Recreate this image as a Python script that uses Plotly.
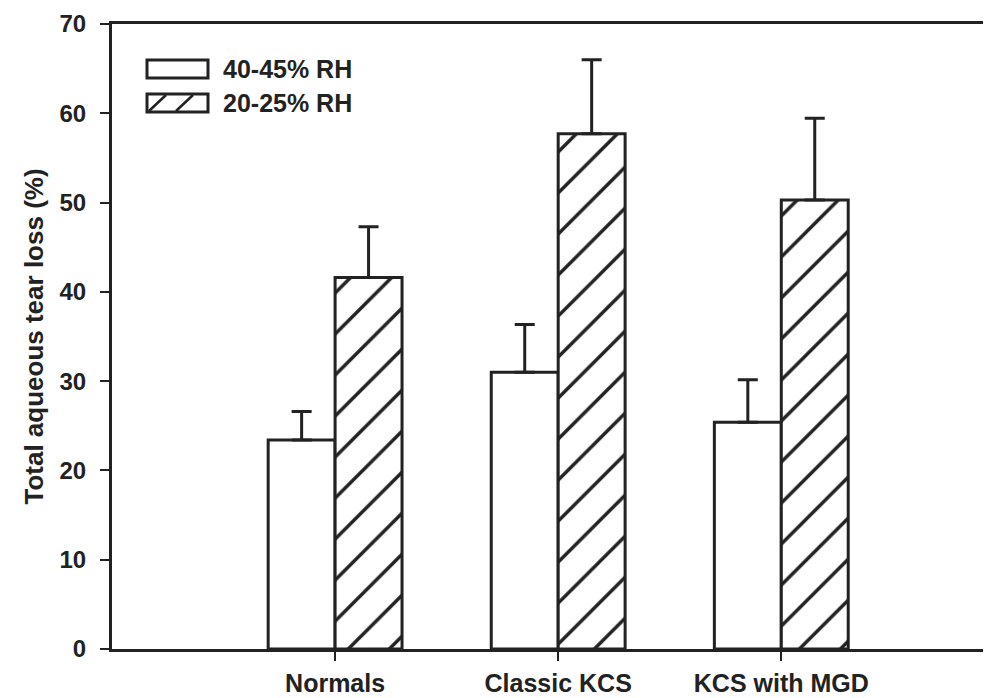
import plotly.graph_objects as go

categories = ["Normals", "Classic KCS", "KCS with MGD"]
series_names = ["40-45% RH", "20-25% RH"]
rh_high = [23.4, 31.0, 25.4]
rh_high_err = [3.2, 5.35, 4.75]
rh_low = [41.6, 57.7, 50.3]
rh_low_err = [5.7, 8.3, 9.15]
y_ticks = [0, 10, 20, 30, 40, 50, 60, 70]

INK = "#222222"
FONT = "Liberation Sans, Arial, sans-serif"
OFF = 8  # page body margin
W, H = 991 - OFF, 698 - OFF
ML, MR, MT, MB = 112 - OFF, 0, 24 - OFF, 698 - 649
PW, PH = W - ML - MR, H - MT - MB


def px(x):  # page pixel -> paper
    return (x - OFF - ML) / PW


def py(y):
    return (H - MB - (y - OFF)) / PH


fig = go.Figure()
fig.add_trace(go.Bar(
    x=categories, y=rh_high, name=series_names[0],
    marker=dict(color="white", line=dict(color=INK, width=3)),
    error_y=dict(type="data", symmetric=False, array=rh_high_err,
                 arrayminus=[0] * len(rh_high_err), color=INK, thickness=3, width=10),
    showlegend=False,
))
fig.add_trace(go.Bar(
    x=categories, y=rh_low, name=series_names[1],
    marker=dict(color="white", line=dict(color=INK, width=3),
                pattern=dict(shape="/", fgcolor=INK, fgopacity=1, bgcolor="white",
                             fillmode="replace", size=29, solidity=0.12)),
    error_y=dict(type="data", symmetric=False, array=rh_low_err,
                 arrayminus=[0] * len(rh_low_err), color=INK, thickness=3, width=10),
    showlegend=False,
))

# legend drawn manually (wide boxes as in the reference)
shapes = []
annotations = []
boxes = [(147, 60, 208, 78), (147, 94, 208, 112)]
for (x0, y0, x1, y1), name in zip(boxes, series_names):
    shapes.append(dict(type="rect", xref="paper", yref="paper",
                       x0=px(x0), x1=px(x1), y0=py(y1), y1=py(y0),
                       line=dict(color=INK, width=3), fillcolor="white", layer="above"))
    annotations.append(dict(xref="paper", yref="paper", x=px(221), y=py((y0 + y1) / 2),
                            xanchor="left", yanchor="middle", showarrow=False, text=name,
                            font=dict(family=FONT, size=25, color=INK, weight="bold")))
for (a, b, c, d) in [(149, 111, 166, 95), (176, 111, 193, 95)]:
    shapes.append(dict(type="line", xref="paper", yref="paper",
                       x0=px(a), y0=py(b), x1=px(c), y1=py(d),
                       line=dict(color=INK, width=2.5), layer="above"))

fig.update_layout(
    width=W, height=H,
    margin=dict(l=ML, r=MR, t=MT, b=MB, autoexpand=False),
    paper_bgcolor="white", plot_bgcolor="white",
    barmode="group", bargap=0.4, bargroupgap=0,
    font=dict(family=FONT, color=INK),
    shapes=shapes, annotations=annotations,
    xaxis=dict(
        type="category", range=[-1, 2.94],
        showline=True, linecolor=INK, linewidth=3, mirror=True,
        ticks="outside", ticklen=9, tickwidth=1.5, tickcolor=INK,
        showgrid=False, zeroline=False,
        tickfont=dict(family=FONT, size=25, color=INK, weight="bold"),
        ticklabelstandoff=1,
    ),
    yaxis=dict(
        range=[0, 70], tickvals=y_ticks,
        showline=True, linecolor=INK, linewidth=3, mirror=False,
        ticks="outside", ticklen=9, tickwidth=2, tickcolor=INK,
        showgrid=False, zeroline=False,
        tickfont=dict(family=FONT, size=24, color=INK, weight="bold"),
        ticklabelstandoff=9,
        title=dict(text="Total aqueous tear loss (%)", standoff=9,
                   font=dict(family=FONT, size=26, color=INK, weight="bold")),
    ),
)

fig.write_html("out.html")
